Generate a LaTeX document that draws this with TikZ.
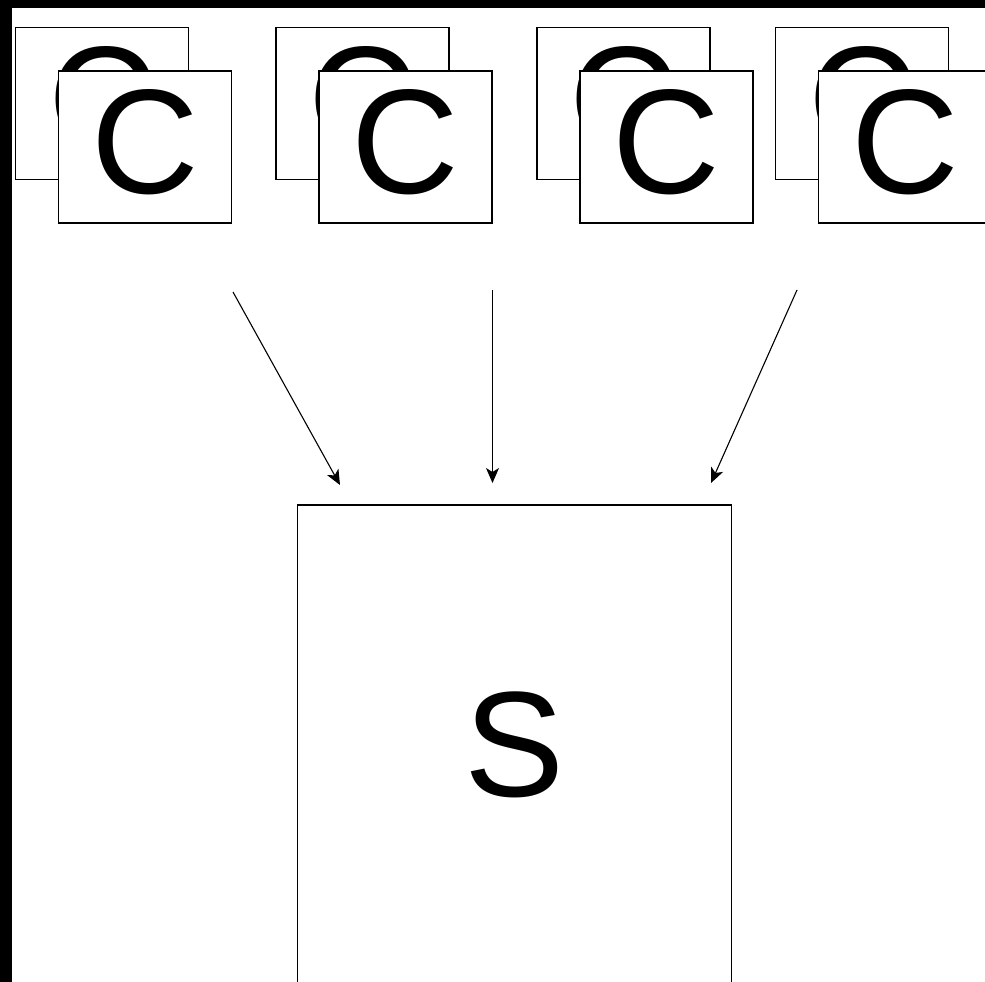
\documentclass[tikz,border=0pt]{standalone}
\usepackage{fontspec}
\setmainfont{Liberation Sans}
\usetikzlibrary{arrows.meta,positioning}

\begin{document}
\begin{tikzpicture}[x=1pt,y=-1pt,
  card/.style={draw=black,fill=white,line width=1.4pt,inner sep=0pt,
               minimum width=173pt,minimum height=152pt,
               font=\fontsize{149}{149}\selectfont,text depth=11pt},
  srvbox/.style={draw=black,fill=white,line width=1.4pt,inner sep=0pt,
                 minimum width=434pt,minimum height=480pt,
                 font=\fontsize{150}{150}\selectfont},
  arr/.style={-{Stealth[length=15pt,width=13pt,inset=4pt]},line width=1.1pt,color=black}
]
  \useasboundingbox (0,0) rectangle (985,982);
  \clip (0,0) rectangle (985,982);
  \fill[black] (0,0) rectangle (985,982);
  \fill[white] (12,8) rectangle (985,982);

  % client stacks: back card first, front card on top
  \node[card] (cb1) at (102,103.5) {C};
  \node[card] (cf1) at (145,147)   {C};
  \node[card] (cb2) at (362.5,103.5) {C};
  \node[card] (cf2) at (405.5,147)   {C};
  \node[card] (cb3) at (623.5,103.5) {C};
  \node[card] (cf3) at (666.5,147)   {C};
  \node[card] (cb4) at (862,103.5) {C};
  \node[card] (cf4) at (905,147)   {C};

  \node[srvbox] (srv) at (514.5,745) {S};

  % request arrows
  \coordinate (r1a) at (233,292);   \coordinate (r1b) at (340,485);
  \coordinate (r2a) at (492.5,290); \coordinate (r2b) at (492.5,483);
  \coordinate (r3a) at (797,290);   \coordinate (r3b) at (711,483);

  \draw[arr] (r1a)--(r1b); \draw[arr] (r2a)--(r2b); \draw[arr] (r3a)--(r3b);
\end{tikzpicture}
\end{document}
